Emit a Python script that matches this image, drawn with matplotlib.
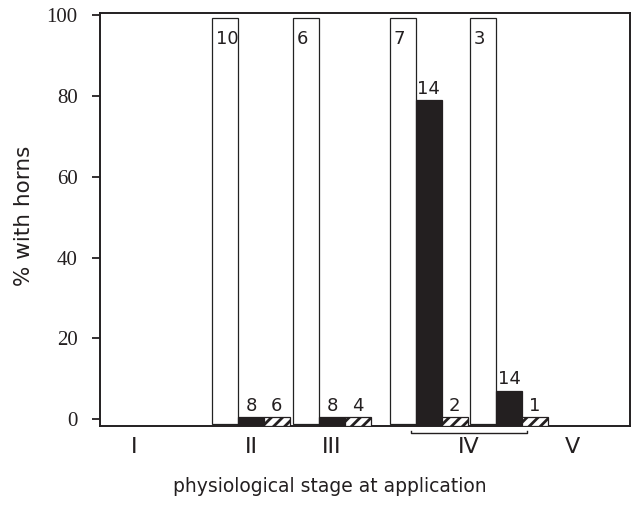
import matplotlib
matplotlib.use("Agg")
import matplotlib.pyplot as plt
import numpy as np

# ---- data ----
stages = ["I", "II", "III", "IV", "V"]
bar_groups = ["II", "III", "IV-a", "IV-b"]
white_pct = [99.3, 99.3, 99.3, 99.3]
black_pct = [0, 0, 79, 7]
hatch_pct = [0, 0, 0, 0]
white_n = ["10", "6", "7", "3"]
black_n = ["8", "8", "14", "14"]
hatch_n = ["6", "4", "2", "1"]
yticks = [0, 20, 40, 60, 80, 100]

# ---- layout ----
group_centers = [5.83, 8.96, 12.70, 15.79]
stage_pos = [1.31, 5.83, 8.96, 14.25, 18.26]
w = 1.0
base = -1.7
min_vis = 0.45

plt.rcParams['hatch.linewidth'] = 2.0
fig = plt.figure(figsize=(6.34, 5.07), dpi=100)
ax = fig.add_axes([100/634, 1-426/507, 530/634, 413/507])
ax.set_xlim(0, 530/25.9)
ax.set_ylim(base, 100.6)

gc = np.array(group_centers)
ax.bar(gc - w, np.array(white_pct) - (base + 0.45), width=w, bottom=base + 0.45,
       color="white", edgecolor="#222222", linewidth=0.9, zorder=2)
ax.bar(gc, np.maximum(black_pct, min_vis) - base, width=w, bottom=base,
       color="#231f20", edgecolor="#231f20", linewidth=0.9, zorder=3)
ax.bar(gc + w, np.maximum(hatch_pct, min_vis) - base, width=w, bottom=base,
       color="white", edgecolor="#231f20", hatch="///", linewidth=0.9, zorder=3)

lab_font = dict(family="DejaVu Sans", fontsize=13, color="#231f20")
for x, v, n in zip(gc - w, white_pct, white_n):
    ax.text(x - w/2 + 0.15, v - 2.8, n, ha="left", va="top", zorder=4, **lab_font)
for x, v, n in zip(gc, black_pct, black_n):
    ax.text(x, max(v, min_vis) + 0.6, n, ha="center", va="bottom", zorder=4, **lab_font)
for x, v, n in zip(gc + w, hatch_pct, hatch_n):
    ax.text(x, max(v, min_vis) + 0.6, n, ha="center", va="bottom", zorder=4, **lab_font)

# axes styling
for s in ax.spines.values():
    s.set_linewidth(1.4)
    s.set_color("#231f20")
ax.set_yticks(yticks)
ax.set_yticklabels([str(t) for t in yticks], family="Liberation Serif", fontsize=15, color="#231f20")
ax.tick_params(axis="y", direction="out", length=6, width=1.3, pad=10, color="#231f20")
ax.set_xticks([])

# stage labels
for x, s in zip(stage_pos, stages):
    ax.text(x, -7.0, s, ha="center", va="center", family="DejaVu Sans",
            fontsize=16, color="#231f20", clip_on=False)

# bracket under IV
bx0 = stage_pos[3] - 2.25
bx1 = stage_pos[3] + 2.25
ax.plot([bx0, bx0, bx1, bx1], [-2.9, -3.45, -3.45, -2.9], color="#231f20",
        lw=1.0, clip_on=False)

fig.text(24/634, 1-216/507, "% with horns", rotation=90, ha="center", va="center",
         family="DejaVu Sans", fontsize=15.5, color="#231f20")
fig.text(330/634, 1-486/507, "physiological stage at application", ha="center", va="center",
         family="DejaVu Sans", fontsize=13.5, color="#231f20")

fig.savefig("out.png", dpi=100)
